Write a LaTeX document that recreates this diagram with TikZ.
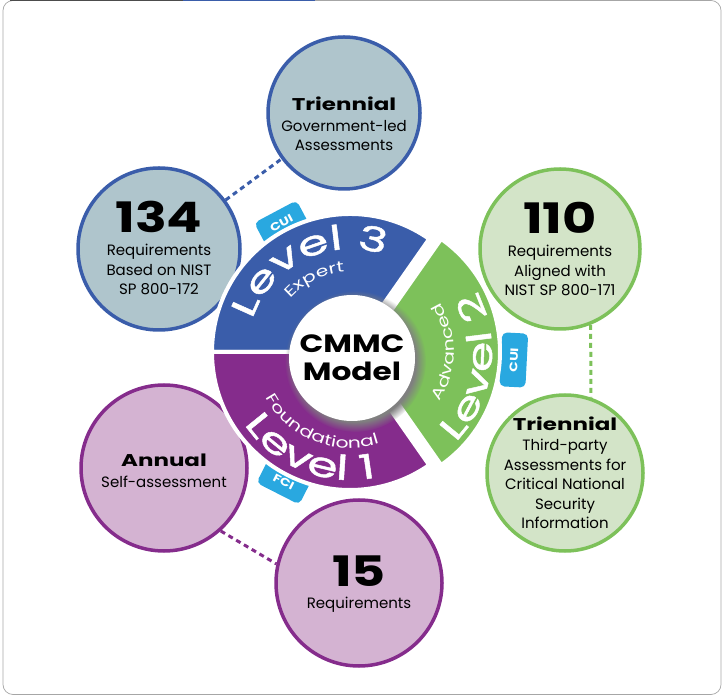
\documentclass[tikz,border=0pt]{standalone}
\usepackage{fontspec}
\setmainfont{Poppins}
\newfontfamily\wide{Poppins}[FakeStretch=1.25]
\newfontfamily\wider{Poppins}[FakeStretch=1.35]
\newfontfamily\lvlfont{Poppins}[FakeStretch=1.45, FakeBold=1.4]
\usetikzlibrary{positioning,calc,decorations.text,shadows}
\definecolor{lvthree}{HTML}{3A5DAA}
\definecolor{lvtwo}{HTML}{7DC15A}
\definecolor{lvone}{HTML}{852C8C}
\definecolor{paleblue}{HTML}{AFC5CC}
\definecolor{palegreen}{HTML}{D3E4C8}
\definecolor{palepurple}{HTML}{D4B3D2}
\definecolor{tabblue}{HTML}{29A8E0}
\newcommand{\hd}{\fontsize{17}{19}\selectfont\wider\bfseries}
\newcommand{\bignum}{\fontsize{42}{42}\selectfont\wide\bfseries}
\newcommand{\lvl}{\fontsize{34}{34}\selectfont\lvlfont}
\newcommand{\tier}{\fontsize{15}{15}\selectfont\wider}
\tikzstyle{bubble} = [circle, draw, line width=3.5, inner sep=0]
\tikzstyle{info} = [align=center, font=\fontsize{15}{19.5}\selectfont]
\tikzstyle{tab} = [fill=tabblue, rounded corners=5, minimum width=48, minimum height=26, inner sep=0, text=white, font=\fontsize{11}{11}\selectfont\wide\bfseries]
\tikzstyle{link} = [line width=3, dash pattern=on 5 off 4]
\tikzstyle{sector} = [draw=white, line width=4]

\begin{document}
\begin{tikzpicture}[x=1pt,y=1pt]
\useasboundingbox (0,0) rectangle (722,696);
\draw[gray!70, line width=0.7, rounded corners=10] (3,1.5) rectangle (721,695.5);
\draw[black!70, line width=1.2] (10,695.5) -- (183,695.5);
\draw[lvthree, line width=1.8] (183,695.5) -- (315,695.5);

\coordinate (c) at (350,344);
\coordinate (g) at (362,344);

\node[bubble, draw=lvthree, fill=paleblue, minimum size=152] (t3) at (344,583) {};
\node[bubble, draw=lvthree, fill=paleblue, minimum size=162] (n3) at (159,447) {};
\node[bubble, draw=lvtwo, fill=palegreen, minimum size=160] (n2) at (560,447) {};
\node[bubble, draw=lvtwo, fill=palegreen, minimum size=156] (t2) at (565,223) {};
\node[bubble, draw=lvone, fill=palepurple, minimum size=166] (t1) at (164,228) {};
\node[bubble, draw=lvone, fill=palepurple, minimum size=166] (n1) at (359,113) {};

\node[info] (t3x) at ([yshift=-11]t3.center) {{\hd Triennial}\\[1pt] Government-led\\ Assessments};
\node[info] (n3x) at ([yshift=1]n3.center) {{\bignum 134}\\[4pt] Requirements\\ Based on NIST\\ SP 800-172};
\node[info] (n2x) at (n2.center) {{\bignum 110}\\[4pt] Requirements\\ Aligned with\\ NIST SP 800-171};
\node[info] (t2x) at (t2.center) {{\hd Triennial}\\[1pt] Third-party\\ Assessments for\\ Critical National\\ Security\\ Information};
\node[info] (t1x) at ([yshift=-3]t1.center) {{\hd Annual}\\[1pt] Self-assessment};
\node[info] (n1x) at ([yshift=-1]n1.center) {{\bignum 15}\\[3pt] Requirements};

\draw[link, lvthree] (n3) -- (t3);
\draw[link, lvtwo] (n2.-68) -- (t2.71);
\draw[link, lvone] (t1.-48) -- (n1.167);

\node[tab, rotate=28] (cui3) at ($(c)+(118:146)$) {CUI};
\node[tab, rotate=87, minimum width=54] (cui2) at ($(g)+(-3:152)$) {CUI};
\node[tab, rotate=-27] (fci) at ($(c)+(243:146)$) {FCI};

\path[sector, fill=lvthree] (c) -- ++(55:138) arc[start angle=55, end angle=180, radius=138] -- cycle;
\path[sector, fill=lvone] (c) -- ++(180:138) arc[start angle=180, end angle=305, radius=138] -- cycle;
\path[sector, fill=lvtwo] (g) -- ++(-55:138) arc[start angle=-55, end angle=55, radius=138] -- cycle;

\node[circle, fill=white, minimum size=126, inner sep=0, circular drop shadow={shadow xshift=3pt, shadow yshift=-3pt, opacity=1, shadow scale=1.12}, align=center, font=\fontsize{25}{28}\selectfont\wide\bfseries] (m) at (352,338) {CMMC\\Model};

\path[decorate, decoration={text along path, text align=center, text={|\lvl\color{white}|Level 3}}] ($(c)+(178:103)$) arc[start angle=178, end angle=54, radius=103];
\path[decorate, decoration={text along path, text align=center, text={|\tier\color{white}|Expert}}] ($(c)+(150:80)$) arc[start angle=150, end angle=82, radius=80];
\path[decorate, decoration={text along path, text align=center, text={|\lvl\color{white}|Level 1}}] ($(c)+(194:128)$) arc[start angle=194, end angle=302, radius=128];
\path[decorate, decoration={text along path, text align=center, text={|\tier\color{white}|Foundational}}] ($(c)+(205:96)$) arc[start angle=205, end angle=291, radius=96];
\path[decorate, decoration={text along path, text align=center, text={|\lvl\color{white}|Level 2}}] ($(g)+(-54:130)$) arc[start angle=-54, end angle=38, radius=130];
\path[decorate, decoration={text along path, text align=center, text={|\tier\color{white}|Advanced}}] ($(g)+(-35:92)$) arc[start angle=-35, end angle=35, radius=92];
\end{tikzpicture}
\end{document}
